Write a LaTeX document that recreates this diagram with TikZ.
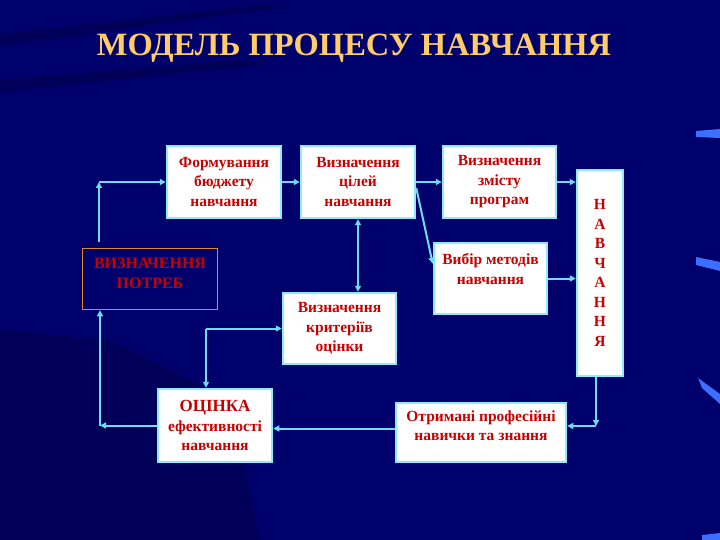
\documentclass[tikz,border=0pt]{standalone}
\usepackage{fontspec}
\setmainfont{Liberation Serif}
\usetikzlibrary{arrows.meta,calc}
\definecolor{bg}{RGB}{0,0,108}
\definecolor{linkc}{RGB}{110,220,245}
\definecolor{boxborder}{RGB}{140,235,255}
\definecolor{txt}{RGB}{200,0,0}
\definecolor{titlec}{RGB}{255,204,102}
\definecolor{streak}{RGB}{60,110,255}
\definecolor{orangeb}{RGB}{215,140,50}
\begin{document}
\begin{tikzpicture}[x=1pt,y=-1pt,
  box/.style={draw=boxborder, line width=2.5pt, fill=white, text=txt,
    font=\bfseries\fontsize{15.5}{19.5}\selectfont, align=center, inner sep=1pt},
  link/.style={draw=linkc, line width=2pt, -{Triangle[length=6pt,width=6pt]}},
  darkband/.style={fill=black, opacity=0.18},
  streakbar/.style={fill=streak}
]
% background
\fill[bg] (0,0) rectangle (720,540);
\useasboundingbox (0,0) rectangle (720,540);
\fill[darkband] (0,34) -- (250,6) -- (290,6) -- (0,46) -- cycle;
\fill[darkband] (0,80) -- (240,60) -- (270,64) -- (0,92) -- cycle;
\fill[darkband] (0,330) -- (110,340) -- (230,400) -- (260,540) -- (0,540) -- cycle;
% right streaks
\fill[streakbar] (696,131) -- (720,129) -- (720,138) -- (696,137) -- cycle;
\fill[streakbar] (696,257) -- (720,262) -- (720,271) -- (696,265) -- cycle;
\fill[streakbar] (698,378) -- (720,394) -- (720,404) -- (702,388) -- cycle;
\fill[streakbar] (702,535) -- (720,533) -- (720,540) -- (702,540) -- cycle;

% title
\node[font=\bfseries\fontsize{32.5}{38}\selectfont, text=titlec] (title) at (354,48) {МОДЕЛЬ ПРОЦЕСУ НАВЧАННЯ};

% boxes
\node[box, minimum width=114, minimum height=72] (form) at (224,182) {Формування\\бюджету\\навчання};
\node[box, minimum width=114, minimum height=72] (cil) at (358,182) {Визначення\\цілей\\навчання};
\node[box, minimum width=113, minimum height=72] (zmist) at (499.5,182) {Визначення\\змісту\\програм};
\node[box, minimum width=113, minimum height=71] (vybir) at (490.5,278.5) {Вибір методів\\навчання\\\mbox{}};
\node[box, minimum width=46, minimum height=206] (navch) at (600,273) {Н\\А\\В\\Ч\\А\\Н\\Н\\Я};
\node[draw=orangeb, line width=1.5pt, minimum width=135, minimum height=61] (potreb) at (150,279) {};
\node[text=txt, font=\bfseries\fontsize{16}{20}\selectfont, align=center] (potrebtxt) at (150,273) {ВИЗНАЧЕННЯ\\ПОТРЕБ};
\node[box, minimum width=113, minimum height=71] (kryt) at (339.5,328.5) {Визначення\\критеріїв\\оцінки};
\node[box, minimum width=114, minimum height=73] (ocinka) at (215,425.5) {{\fontsize{17}{19.5}\selectfont ОЦІНКА}\\ефективності\\навчання};
\node[box, minimum width=170, minimum height=59] (otrym) at (481,432.5) {Отримані професійні\\навички та знання\\[-6pt]\mbox{}};

% coordinates
\coordinate (tl) at (99,182);
\coordinate (bl) at (100,425.5);
\coordinate (mk) at (206,328.5);
\coordinate (br) at (596,426);

% connectors
\draw[link] (form.east) -- (cil.west);
\draw[link] (cil.east) -- (zmist.west);
\draw[link] (zmist.east) -- (navch.west |- zmist.east);
\draw[link] (vybir.east) -- (navch.west |- vybir.east);
\draw[link] ([yshift=-6pt]cil.east) -- ([yshift=-22pt]vybir.north west);
\draw[link, {Triangle[length=6pt,width=6pt]}-{Triangle[length=6pt,width=6pt]}] (cil.south) -- (cil.south |- kryt.north);
\draw[link] ([yshift=6pt]tl |- potreb.north) -- (tl);
\draw[link] (tl) -- (form.west);
\draw[link] (ocinka.west) -- (bl);
\draw[link] (bl) -- (bl |- potreb.south);
\draw[link] (mk) -- (kryt.west);
\draw[link] (mk) -- (mk |- ocinka.north);
\draw[link] (br |- navch.south) -- (br);
\draw[link] (br) -- (br -| otrym.east);
\draw[link] ([yshift=4pt]otrym.west) -- ([yshift=4pt]otrym.west -| ocinka.east);
\end{tikzpicture}
\end{document}
